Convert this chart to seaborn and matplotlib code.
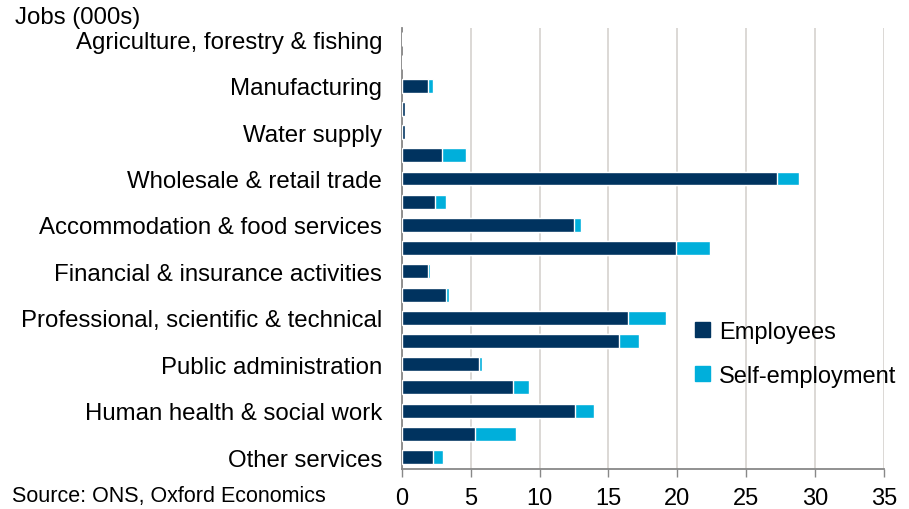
import pandas as pd
import numpy as np
import matplotlib
matplotlib.use("Agg")
import matplotlib.pyplot as plt
import seaborn as sns
from matplotlib.patches import Patch

# data (jobs, thousands)
sectors = ["Agriculture, forestry & fishing", "Mining & quarrying", "Manufacturing",
           "Electricity & gas", "Water supply", "Construction",
           "Wholesale & retail trade", "Transport & storage",
           "Accommodation & food services", "Information & communication",
           "Financial & insurance activities", "Real estate activities",
           "Professional, scientific & technical", "Administrative & support services",
           "Public administration", "Education", "Human health & social work",
           "Arts, entertainment & recreation", "Other services"]
employees = [0.0, 0.0, 1.9, 0.25, 0.25, 2.9, 27.2, 2.4, 12.5, 19.9,
             1.9, 3.2, 16.45, 15.8, 5.6, 8.05, 12.6, 5.3, 2.3]
self_employment = [0.0, 0.05, 0.35, 0.03, 0.03, 1.75, 1.6, 0.8, 0.5, 2.5,
                   0.15, 0.25, 2.75, 1.45, 0.25, 1.15, 1.35, 3.0, 0.7]
# only every other sector is labelled on the axis
shown_labels = [s if i % 2 == 0 else "" for i, s in enumerate(sectors)]
x_ticks = [0, 5, 10, 15, 20, 25, 30, 35]

dark = "#00335f"
light = "#00afdb"

df = pd.DataFrame({"sector": sectors, "Employees": employees, "Self-employment": self_employment})
df["total"] = df["Employees"] + df["Self-employment"]

sns.set_style("white")
plt.rcParams["font.family"] = ["Liberation Sans", "DejaVu Sans"]
plt.rcParams["text.color"] = "black"
plt.rcParams["xtick.color"] = "black"
plt.rcParams["ytick.color"] = "black"

fig = plt.figure(figsize=(9.09, 5.10), dpi=100)
ax = fig.add_axes([0.442, 0.079, 0.5305, 0.865])

sns.barplot(data=df, y="sector", x="total", color=light, orient="h", width=0.6,
            saturation=1, ax=ax, zorder=2)
sns.barplot(data=df, y="sector", x="Employees", color=dark, orient="h", width=0.6,
            saturation=1, ax=ax, zorder=3)

ax.set_xlim(0, 35)
ax.set_xticks(x_ticks)
ax.set_xticklabels([str(t) for t in x_ticks], fontsize=17)
ax.set_yticks(range(len(sectors)))
ax.set_yticklabels(shown_labels, fontsize=17.3)
ax.tick_params(axis="y", length=0, pad=14)
ax.tick_params(axis="x", length=6, width=1, color="#888888", direction="out", pad=7,
               bottom=True, labelcolor="black")
ax.set_xlabel("")
ax.set_ylabel("")
ax.grid(axis="x", color="#d9d6d2", linewidth=1.3, zorder=0)
ax.set_axisbelow(True)
for side in ["top", "right"]:
    ax.spines[side].set_visible(False)
for side in ["left", "bottom"]:
    ax.spines[side].set_color("#888888")
    ax.spines[side].set_linewidth(1.3)

handles = [Patch(color=dark, label="Employees"), Patch(color=light, label="Self-employment")]
ax.legend(handles=handles, loc="center left", bbox_to_anchor=(0.565, 0.26), frameon=False,
          fontsize=17, handlelength=0.6, handleheight=0.6, handletextpad=0.4,
          labelspacing=0.95)

fig.text(0.016, 0.965, "Jobs (000s)", fontsize=17.3, va="center", ha="left")
fig.text(0.013, 0.027, "Source: ONS, Oxford Economics", fontsize=15.5, va="center", ha="left")

fig.savefig("out.png", dpi=100)
